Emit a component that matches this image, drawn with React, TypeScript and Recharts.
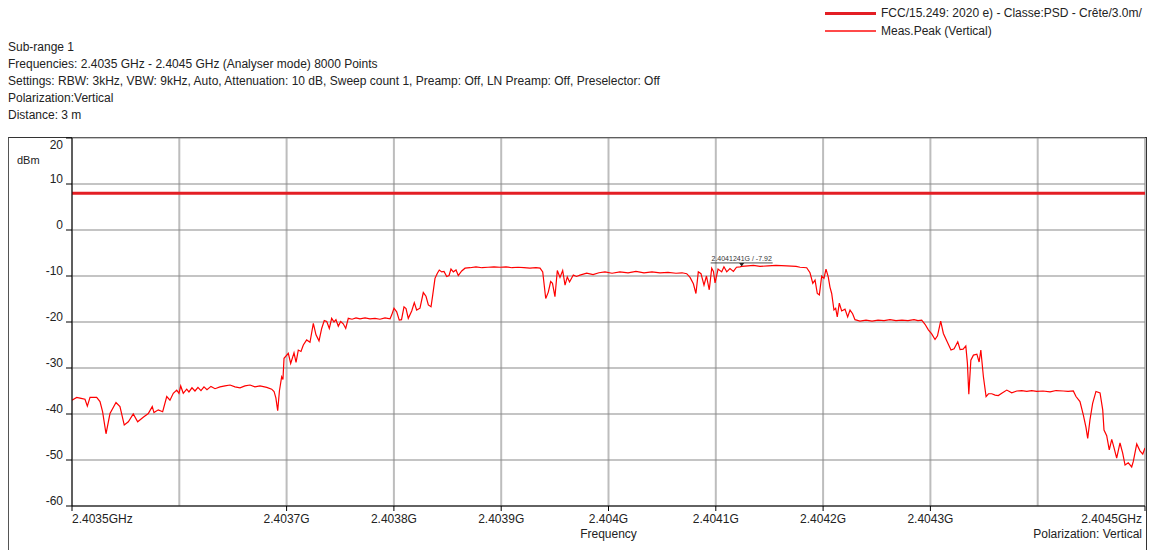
import { LineChart, Line, XAxis, YAxis, CartesianGrid, ReferenceDot } from 'recharts';

const FONT = '"Liberation Sans", Arial, sans-serif';

const headerLines = [
  'Sub-range 1',
  'Frequencies: 2.4035 GHz - 2.4045 GHz (Analyser mode) 8000 Points',
  'Settings: RBW: 3kHz, VBW: 9kHz, Auto, Attenuation: 10 dB, Sweep count 1, Preamp: Off, LN Preamp: Off, Preselector: Off',
  'Polarization:Vertical',
  'Distance: 3 m',
];

const limitName = 'FCC/15.249: 2020 e) - Classe:PSD - Crête/3.0m/';
const peakName = 'Meas.Peak (Vertical)';

// offset from 2.4035 GHz, in kHz
const offsetKHz = [
  0, 4.4, 8.5, 12.1, 14.3, 16.8, 23.0, 26.1, 28.5, 31.7, 35.4, 41.0, 44.7, 48.7, 52.5, 57.1, 61.2, 66.4, 71.1, 74.8,
  76.4, 80.4, 84.5, 88.3, 91.3, 94.4, 97.6, 99.7, 101.3, 103.7, 106.9, 109.0, 111.8, 114.6, 117.4, 120.2, 123.0, 125.8,
  129.5, 133.3, 137.9, 142.6, 147.3, 151.9, 156.6, 161.2, 165.9, 170.5, 175.2, 181.5, 186.1, 188.3, 190.0, 191.7, 193.3,
  195.4, 196.6, 197.6, 201.6, 203.8, 206.9, 208.8, 210.9, 213.4, 215.6, 218.7, 221.8, 224.9, 227.4, 230.2, 232.7, 235.1,
  237.4, 239.8, 242.0, 244.2, 246.0, 248.2, 250.4, 252.8, 255.1, 257.5, 261.0, 264.7, 268.4, 273.1, 277.7, 282.4, 287.0,
  291.7, 296.4, 297.9, 300.1, 302.6, 305.0, 307.1, 309.4, 311.3, 313.4, 316.6, 319.0, 321.2, 324.3, 327.4, 329.9, 332.1,
  334.6, 336.2, 338.3, 340.5, 342.3, 344.6, 346.7, 349.2, 351.4, 353.2, 355.4, 357.9, 360.0, 363.2, 366.3, 370.9, 376.5,
  382.1, 387.7, 393.3, 398.9, 404.5, 410.1, 415.7, 421.2, 426.8, 432.4, 436.2, 438.7, 441.5, 443.9, 446.1, 447.8, 450.1,
  452.3, 454.8, 457.3, 459.5, 461.6, 463.7, 467.2, 470.2, 473.4, 479.7, 485.6, 491.1, 496.7, 503.3, 510.7, 518.2, 525.6,
  533.1, 540.5, 548.0, 555.5, 562.9, 568.5, 572.9, 576.0, 579.1, 581.5, 583.7, 586.2, 589.0, 591.3, 593.9, 596.2, 597.8,
  599.3, 602.1, 605.5, 607.6, 610.2, 613.2, 616.4, 619.3, 622.6, 624.1, 630.0, 635.0, 641.2, 648.7, 656.1, 666.1, 674.8,
  678.5, 684.7, 687.8, 690.4, 692.5, 694.6, 696.5, 698.7, 700.8, 702.7, 704.8, 706.4, 708.0, 710.1, 711.7, 713.2, 715.1,
  717.3, 720.4, 722.9, 725.1, 727.5, 729.7, 734.4, 740.0, 745.6, 751.2, 756.8, 762.3, 767.9, 773.5, 779.1, 784.7, 788.4,
  791.9, 795.0, 798.1, 801.2, 804.3, 806.6, 809.6, 812.1, 815.2, 819.2, 822.1, 825.5, 827.7, 830.5, 833.0, 834.5, 835.8,
  837.7, 840.1, 843.3, 845.4, 847.0, 849.4, 851.9, 854.1, 857.2, 860.3, 863.3, 866.5, 871.2, 875.8, 880.5, 885.1, 889.8,
  894.4, 899.1, 905.0, 911.5, 917.1, 923.9, 928.3, 933.2, 935.7, 939.4, 942.5, 945.0, 946.6, 948.7, 951.2, 954.3, 958.1,
  960.6, 961.8, 964.3, 966.7, 969.0, 971.1, 973.6, 976.7, 979.2, 981.4, 984.4, 987.6, 989.1, 992.3, 995.3, 997.9, 1000,
];

const peakDbm = [
  -37.0, -36.4, -36.6, -36.8, -38.3, -36.4, -36.4, -37.3, -39.5, -44.3, -39.9, -37.5, -38.4, -42.4, -41.7, -40.0, -41.7,
  -40.7, -39.9, -38.4, -39.7, -39.1, -39.5, -36.2, -37.0, -35.5, -34.8, -35.5, -33.9, -35.5, -34.6, -35.2, -34.3, -35.0,
  -34.2, -34.9, -34.1, -34.7, -34.0, -34.5, -34.1, -33.9, -33.7, -34.1, -34.3, -33.9, -33.7, -34.1, -33.9, -34.2, -34.6,
  -35.1, -36.5, -39.3, -35.0, -31.9, -32.5, -27.9, -26.8, -29.0, -26.7, -28.8, -26.1, -26.4, -25.0, -23.9, -24.4, -20.3,
  -22.8, -24.1, -21.4, -19.7, -19.9, -21.4, -19.2, -20.0, -19.5, -20.9, -19.9, -20.4, -21.4, -19.2, -19.4, -19.1, -19.3,
  -19.1, -19.3, -19.2, -19.4, -19.1, -19.3, -18.5, -17.0, -17.8, -19.6, -19.5, -16.7, -17.1, -19.2, -17.6, -15.8, -17.4,
  -17.0, -13.6, -14.4, -16.3, -16.7, -14.1, -10.5, -9.4, -8.7, -9.1, -9.0, -10.1, -9.9, -8.5, -9.1, -8.7, -9.9, -8.9,
  -8.3, -8.2, -8.0, -8.2, -8.1, -8.0, -8.1, -8.0, -8.2, -8.1, -8.2, -8.3, -8.2, -8.3, -9.1, -14.9, -13.5, -11.2, -11.6,
  -14.5, -8.8, -10.3, -8.8, -12.0, -10.2, -11.3, -9.8, -10.1, -9.8, -9.4, -9.7, -9.3, -9.1, -9.4, -9.1, -9.3, -9.0, -9.3,
  -9.1, -9.3, -9.2, -9.4, -9.3, -9.5, -10.3, -11.7, -13.8, -9.1, -9.5, -12.0, -10.0, -13.0, -8.3, -9.0, -11.5, -8.5, -9.1,
  -8.0, -9.1, -8.4, -9.0, -8.1, -8.0, -7.92, -7.8, -7.7, -7.9, -7.8, -7.7, -7.8, -7.9, -8.1, -8.2, -9.3, -11.6, -10.9,
  -13.8, -14.1, -10.0, -10.5, -8.5, -10.2, -12.4, -13.8, -17.4, -17.0, -18.9, -15.9, -17.6, -17.2, -18.9, -17.4, -18.2,
  -19.5, -19.8, -19.6, -19.8, -19.6, -19.7, -19.5, -19.7, -19.6, -19.7, -19.5, -19.7, -19.6, -20.5, -21.7, -22.6, -23.8,
  -23.0, -19.8, -22.5, -24.1, -26.1, -25.8, -24.3, -26.0, -25.9, -25.2, -29.0, -35.7, -28.3, -27.2, -27.0, -28.7, -26.1,
  -31.9, -36.2, -35.6, -35.6, -35.9, -36.0, -35.5, -34.8, -35.4, -35.0, -34.9, -35.1, -34.9, -35.1, -35.0, -35.2, -34.9,
  -35.0, -35.1, -35.0, -36.2, -37.3, -40.2, -42.9, -45.3, -41.3, -37.7, -35.1, -35.4, -39.1, -43.5, -44.7, -47.8, -45.5,
  -47.3, -49.6, -46.3, -48.5, -51.1, -50.6, -51.5, -50.3, -46.5, -48.0, -48.7, -47.4,
];

const limitKHz = [0, 1000];
const limitDbm = [8, 8];

const xTicks = [0, 100, 200, 300, 400, 500, 600, 700, 800, 900, 1000];
const xTickLabels = ['2.4035GHz', '', '2.4037G', '2.4038G', '2.4039G', '2.404G', '2.4041G', '2.4042G', '2.4043G', '', '2.4045GHz'];
const yTicks = [-60, -50, -40, -30, -20, -10, 0, 10, 20];

const markerKHz = 624.1;
const markerDbm = -7.92;
const markerText = '2.4041241G / -7.92';

const peakData = offsetKHz.map((f, i) => ({ f, v: peakDbm[i] }));
const limitData = limitKHz.map((f, i) => ({ f, v: limitDbm[i] }));

function XTick(props: any) {
  const { x, y, payload, index } = props;
  const label = xTickLabels[index] ?? '';
  if (!label) return null;
  const axisY = y - 6;
  const anchor = index === 0 ? 'start' : index === xTicks.length - 1 ? 'end' : 'middle';
  return (
    <g>
      <line x1={x} x2={x} y1={axisY} y2={axisY + 5} stroke="#000" />
      <text x={anchor === 'end' ? x - 3 : x} y={axisY + 17} textAnchor={anchor} fontSize={12} fontFamily={FONT} fill="#222">
        {label}
      </text>
    </g>
  );
}

function YTick(props: any) {
  const { x, y, payload } = props;
  const dy = payload.value === 20 ? 11 : -1;
  return (
    <text x={x - 1} y={y + dy} textAnchor="end" fontSize={12} fontFamily={FONT} fill="#222">
      {payload.value}
    </text>
  );
}

function Marker(props: any) {
  const { cx, cy } = props;
  return (
    <g>
      <text x={cx} y={cy - 5} textAnchor="middle" fontSize={7} fontFamily={FONT} fill="#333">
        {markerText}
      </text>
      <line x1={cx - 31} x2={cx + 31} y1={cy - 3.5} y2={cy - 3.5} stroke="#222" strokeWidth={0.8} />
      <path d={`M${cx - 2.5},${cy - 3.5} L${cx + 2.5},${cy - 3.5} L${cx},${cy} Z`} fill="#222" />
    </g>
  );
}

export default function App() {
  return (
    <div style={{ position: 'absolute', left: 0, top: 0, width: 1154, height: 550, background: '#fff', fontFamily: FONT, overflow: 'hidden' }}>
      <div style={{ position: 'absolute', left: 8, top: 39, fontSize: 12, lineHeight: '16.9px', color: '#222', whiteSpace: 'nowrap' }}>
        {headerLines.map((t) => (
          <div key={t}>{t}</div>
        ))}
      </div>

      <div style={{ position: 'absolute', left: 825, top: 4, fontSize: 12, color: '#222', whiteSpace: 'nowrap' }}>
        <div style={{ display: 'flex', alignItems: 'center', height: 18 }}>
          <span style={{ width: 51, height: 3, background: '#e31e24', marginRight: 5 }} />
          {limitName}
        </div>
        <div style={{ display: 'flex', alignItems: 'center', height: 18 }}>
          <span style={{ width: 51, height: 1.5, background: '#ff4a4a', marginRight: 5 }} />
          {peakName}
        </div>
      </div>

      <div style={{ position: 'absolute', left: 8, top: 137, width: 1137, height: 430, borderLeft: '1px solid #555', borderTop: '1px solid #333', borderRight: '1px solid #333' }} />

      <div style={{ position: 'absolute', left: 0, top: 0 }}>
        <LineChart width={1154} height={550} margin={{ top: 138, right: 9, bottom: 14, left: 12 }}>
          <CartesianGrid horizontal={false} stroke="#bdbdbd" strokeWidth={2} />
          <CartesianGrid vertical={false} stroke="#8a8a8a" strokeWidth={1.2} />
          <XAxis
            dataKey="f"
            type="number"
            domain={[0, 1000]}
            ticks={xTicks}
            interval={0}
            allowDataOverflow
            height={30}
            tickSize={6}
            tickMargin={0}
            tickLine={false}
            axisLine={{ stroke: '#000' }}
            tick={<XTick />}
            label={{
              value: 'Frequency',
              content: (p: any) => (
                <g>
                  <text x={p.viewBox.x + p.viewBox.width / 2} y={p.viewBox.y + 32} textAnchor="middle" fontSize={12} fontFamily={FONT} fill="#222">
                    Frequency
                  </text>
                  <text x={p.viewBox.x + p.viewBox.width - 3} y={p.viewBox.y + 32} textAnchor="end" fontSize={12} fontFamily={FONT} fill="#222">
                    Polarization: Vertical
                  </text>
                </g>
              ),
            }}
          />
          <YAxis
            dataKey="v"
            type="number"
            domain={[-60, 20]}
            ticks={yTicks}
            interval={0}
            allowDataOverflow
            width={60}
            tickSize={6}
            tickMargin={2}
            tickLine={{ stroke: '#000' }}
            axisLine={{ stroke: '#000' }}
            tick={<YTick />}
            label={{
              value: 'dBm',
              content: (p: any) => (
                <text x={p.viewBox.x + 5} y={164} fontSize={11} fontFamily={FONT} fill="#222">
                  dBm
                </text>
              ),
            }}
          />
          <Line data={limitData} dataKey="v" name={limitName} stroke="#e31e24" strokeWidth={3} dot={false} isAnimationActive={false} />
          <Line data={peakData} dataKey="v" name={peakName} stroke="#ff0000" strokeWidth={1.2} dot={false} isAnimationActive={false} />
          <ReferenceDot x={markerKHz} y={markerDbm} shape={<Marker />} />
        </LineChart>
      </div>
    </div>
  );
}
